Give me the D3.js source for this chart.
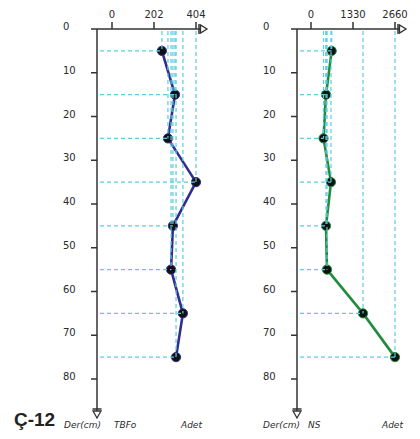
<!DOCTYPE html>
<html>
<head>
<meta charset="utf-8">
<script src="https://cdn.jsdelivr.net/npm/d3@7"></script>
<style>
  html, body { margin: 0; padding: 0; background: #fff; }
  svg { display: block; }
</style>
</head>
<body>
<svg id="chart" width="420" height="439"></svg>
<script>
// ---- data ----
const depths = [5, 15, 25, 35, 45, 55, 65, 75];
const tbfo = [240, 303, 269, 404, 293, 284, 341, 308];
const ns = [655, 475, 396, 633, 475, 507, 1647, 2660];
const depthTicks = [0, 10, 20, 30, 40, 50, 60, 70, 80];
const tbfoTicks = [0, 202, 404];
const nsTicks = [0, 1330, 2660];

const svg = d3.select("#chart");
const y = d3.scaleLinear().domain([0, 80]).range([29, 379]);

const axisColor = "#333";
const dashColor = "#5ccbe0";
const textColor = "#2b2b2b";

function panel(opts) {
  const { axisX, zeroX, values, ticks, lineColor, labels } = opts;
  const maxV = ticks[ticks.length - 1];
  const x = d3.scaleLinear().domain([0, maxV]).range([zeroX, zeroX + 84]);
  const g = svg.append("g");
  const topY = y(0);

  // depth labels
  g.selectAll("text.dl").data(depthTicks).join("text")
    .attr("x", axisX - 34).attr("y", d => y(d) + 1)
    .attr("font-family", "DejaVu Sans, Verdana, sans-serif")
    .attr("font-size", 10).attr("fill", textColor)
    .text(d => d);

  // depth ticks
  g.selectAll("line.dt").data(depthTicks.filter(d => d > 0)).join("line")
    .attr("x1", axisX - 6).attr("x2", axisX)
    .attr("y1", d => y(d)).attr("y2", d => y(d))
    .attr("stroke", axisColor).attr("stroke-width", 1.5);

  // vertical axis
  g.append("line").attr("x1", axisX).attr("x2", axisX)
    .attr("y1", topY).attr("y2", 418)
    .attr("stroke", axisColor).attr("stroke-width", 1.5);
  g.append("line").attr("x1", axisX - 4.5).attr("x2", axisX + 4.5)
    .attr("y1", 409).attr("y2", 409)
    .attr("stroke", axisColor).attr("stroke-width", 1.5);
  g.append("path")
    .attr("d", `M${axisX - 4},411 L${axisX + 4},411 L${axisX},418 Z`)
    .attr("fill", "#fff").attr("stroke", axisColor).attr("stroke-width", 1.3);

  // top axis
  const endX = x(maxV);
  g.append("line").attr("x1", axisX - 6).attr("x2", endX + 11)
    .attr("y1", topY).attr("y2", topY)
    .attr("stroke", axisColor).attr("stroke-width", 1.5);
  g.selectAll("line.tt").data(ticks).join("line")
    .attr("x1", d => x(d)).attr("x2", d => x(d))
    .attr("y1", topY - 7).attr("y2", topY)
    .attr("stroke", axisColor).attr("stroke-width", 1.5);
  g.selectAll("text.tl").data(ticks).join("text")
    .attr("x", d => x(d)).attr("y", 18)
    .attr("text-anchor", "middle")
    .attr("font-family", "DejaVu Sans, Verdana, sans-serif")
    .attr("font-size", 10).attr("fill", textColor)
    .text(d => d);
  g.append("line").attr("x1", endX + 3).attr("x2", endX + 3)
    .attr("y1", topY - 5).attr("y2", topY + 5)
    .attr("stroke", axisColor).attr("stroke-width", 1.5);
  g.append("path")
    .attr("d", `M${endX + 4.5},${topY - 4} L${endX + 4.5},${topY + 4} L${endX + 11},${topY} Z`)
    .attr("fill", "#fff").attr("stroke", axisColor).attr("stroke-width", 1.3);

  const pts = depths.map((d, i) => ({ d, v: values[i] }));

  // data line
  g.append("path").datum(pts)
    .attr("d", d3.line().x(p => x(p.v)).y(p => y(p.d)))
    .attr("fill", "none").attr("stroke", lineColor)
    .attr("stroke-width", 2.6).attr("stroke-linejoin", "round");

  // markers
  g.selectAll("circle").data(pts).join("circle")
    .attr("cx", p => x(p.v)).attr("cy", p => y(p.d)).attr("r", 4.6)
    .attr("fill", "#111").attr("stroke", lineColor).attr("stroke-width", 1);

  // drop lines
  g.selectAll("line.h").data(pts).join("line")
    .attr("x1", axisX + 3).attr("x2", p => x(p.v))
    .attr("y1", p => y(p.d)).attr("y2", p => y(p.d))
    .attr("stroke", dashColor).attr("stroke-width", 1.2)
    .attr("stroke-dasharray", "4,3");
  g.selectAll("line.v").data(pts).join("line")
    .attr("x1", p => x(p.v)).attr("x2", p => x(p.v))
    .attr("y1", topY + 2).attr("y2", p => y(p.d))
    .attr("stroke", dashColor).attr("stroke-width", 1.2)
    .attr("stroke-dasharray", "4,3");

  // bottom labels
  labels.forEach(l => {
    g.append("text").attr("x", l.x).attr("y", 428)
      .attr("font-family", "DejaVu Sans, Verdana, sans-serif")
      .attr("font-style", "italic")
      .attr("font-size", 9).attr("fill", textColor)
      .text(l.t);
  });
}

panel({
  axisX: 97, zeroX: 112, values: tbfo, ticks: tbfoTicks, lineColor: "#2e2f8f",
  labels: [{ t: "Der(cm)", x: 64 }, { t: "TBFo", x: 114 }, { t: "Adet", x: 181 }]
});
panel({
  axisX: 297, zeroX: 311, values: ns, ticks: nsTicks, lineColor: "#1f8c3e",
  labels: [{ t: "Der(cm)", x: 263 }, { t: "NS", x: 308 }, { t: "Adet", x: 382 }]
});

svg.append("text").attr("x", 14).attr("y", 426)
  .attr("font-family", "Liberation Sans, Arial, sans-serif")
  .attr("font-weight", "bold").attr("font-size", 19)
  .attr("fill", "#222").text("Ç-12");
</script>
</body>
</html>
